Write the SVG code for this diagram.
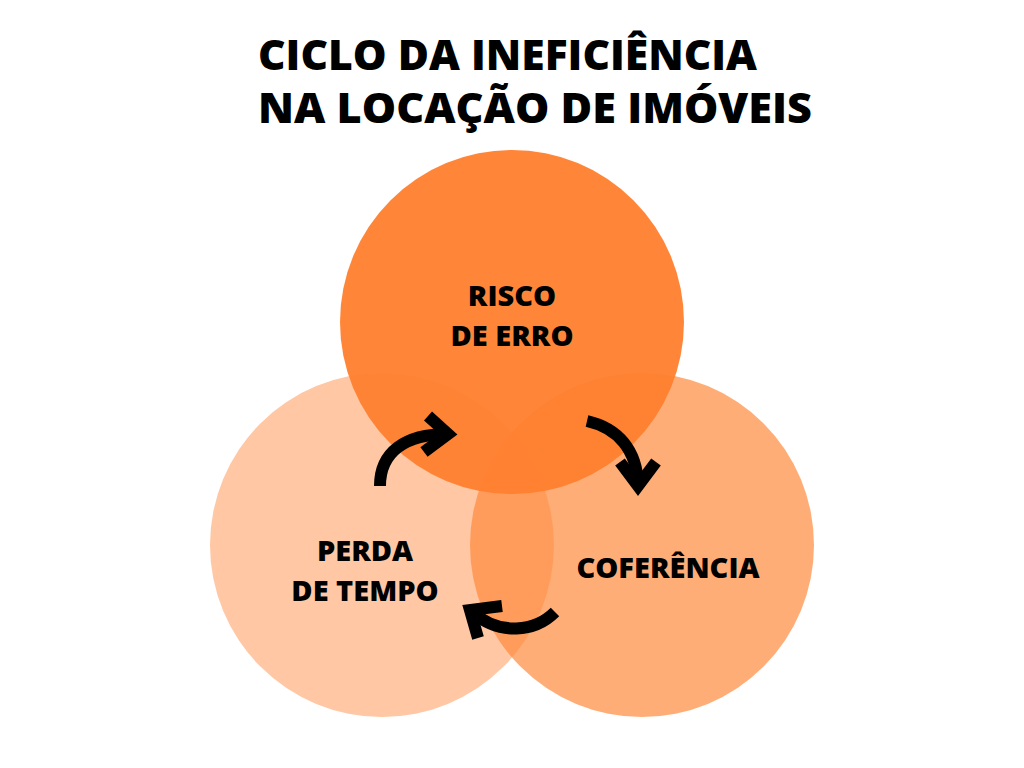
<svg xmlns="http://www.w3.org/2000/svg" width="1024" height="768" viewBox="0 0 1024 768">
<style>
.t{font-family:"Open Sans","Liberation Sans",sans-serif;font-weight:800;fill:#000}
.a{fill:none;stroke:#000;stroke-width:12}
</style>
<rect width="1024" height="768" fill="#fff"/>
<text class="t" x="258" y="70" font-size="42" textLength="499" lengthAdjust="spacingAndGlyphs">CICLO DA INEFICIÊNCIA</text>
<text class="t" x="258" y="123" font-size="42" textLength="554" lengthAdjust="spacingAndGlyphs">NA LOCAÇÃO DE IMÓVEIS</text>
<g id="perda"><circle cx="382" cy="545" r="172" fill="#FFA266" fill-opacity="0.6"/>
<text class="t" font-size="29" text-anchor="middle"><tspan x="365" y="561">PERDA</tspan><tspan x="365" y="601">DE TEMPO</tspan></text></g>
<g id="coferencia"><circle cx="642" cy="545" r="172" fill="#FF8A3D" fill-opacity="0.7"/>
<text class="t" font-size="29" text-anchor="middle" x="668" y="578">COFERÊNCIA</text></g>
<g id="risco"><circle cx="512" cy="322" r="172" fill="#FF7F2E" fill-opacity="0.95"/>
<text class="t" font-size="29" text-anchor="middle"><tspan x="512" y="306">RISCO</tspan><tspan x="512" y="346">DE ERRO</tspan></text></g>
<g id="connectors">
<path class="a" d="M380 486 C380 452 405 434 448 434"/>
<polyline class="a" points="428,416 448,434 424,452"/>
<path class="a" d="M587 421 C618 428 637 450 638 485"/>
<polyline class="a" points="620,462 638,486 656,462"/>
<path class="a" d="M555 612 C535 632 500 636 472 612"/>
<polyline class="a" points="502,606 470,610 478,638"/>
</g>
</svg>
